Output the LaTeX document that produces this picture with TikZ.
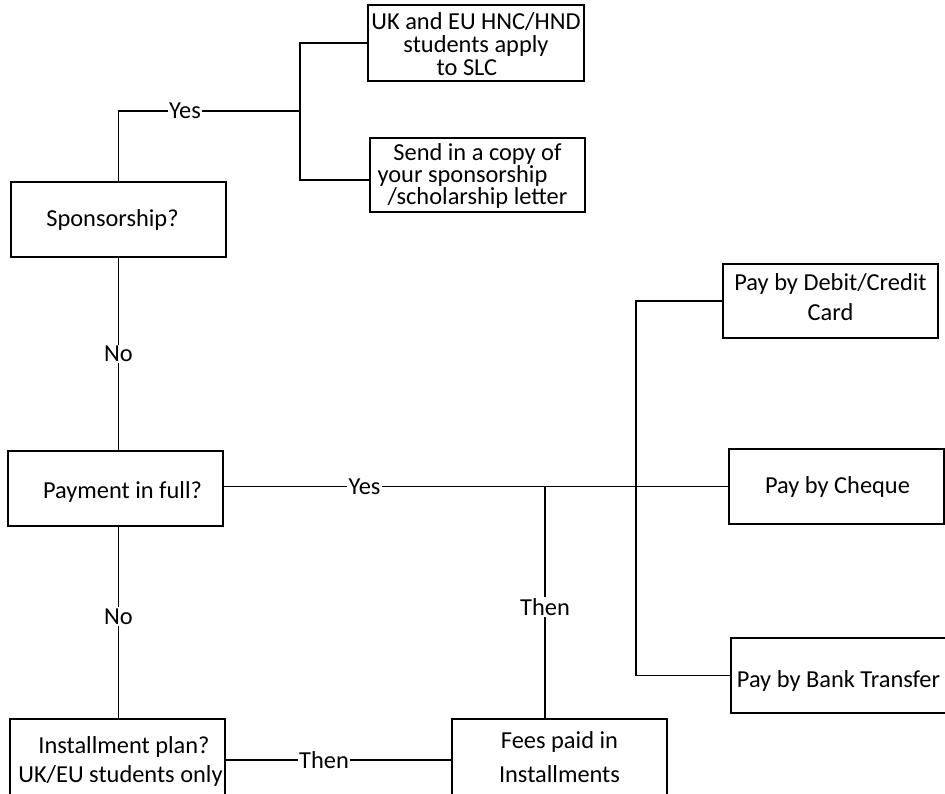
\documentclass[tikz,border=0pt]{standalone}
\usepackage{fontspec}
\setmainfont{Carlito}
\begin{document}
\begin{tikzpicture}[x=1pt,y=-1pt,
  box/.style={draw, line width=1.5pt, inner sep=0pt, minimum width=215pt, minimum height=75pt},
  txt/.style={inner sep=0pt, align=center, font=\fontsize{24.4}{29}\selectfont},
  conn/.style={line width=1.4pt},
  lbl/.style={fill=white, inner sep=1.5pt, font=\fontsize{24.4}{29}\selectfont}]
\useasboundingbox (0,0) rectangle (945,794);
% boxes
\node[box, minimum width=216pt, minimum height=76pt] (uk) at (476,43) {};
\node[box, minimum height=74pt] (send) at (477.5,175) {};
\node[box] (spons) at (118.5,219.5) {};
\node[box, minimum height=74pt] (debit) at (830.5,301) {};
\node[box] (pay) at (115.5,488.5) {};
\node[box] (cheque) at (836.5,486.5) {};
\node[box] (bank) at (838.5,675.5) {};
\node[box, minimum height=76pt] (inst) at (117.5,757) {};
\node[box, minimum height=76pt] (fees) at (559.5,757) {};
% texts
\node[txt, font=\fontsize{24.4}{23}\selectfont] (uk-t) at ([yshift=-1pt]uk.center) {UK and EU HNC/HND\\students apply\\to SLC\kern18pt};
\node[txt, font=\fontsize{24.4}{22}\selectfont] (send-t) at ([yshift=-1pt]send.center) {Send in a copy of\\your sponsorship\kern30pt\\/scholarship letter};
\node[txt] (spons-t) at ([xshift=-6pt]spons.center) {Sponsorship?};
\node[txt, font=\fontsize{24.4}{30}\selectfont] (debit-t) at ([yshift=4pt]debit.center) {Pay by Debit/Credit\\Card};
\node[txt] (pay-t) at ([xshift=7pt,yshift=-3pt]pay.center) {Payment in full?};
\node[txt] (cheque-t) at ([xshift=1pt]cheque.center) {Pay by Cheque};
\node[txt] (bank-t) at ([yshift=-5pt]bank.center) {Pay by Bank Transfer};
\node[txt] (inst-t) at ([xshift=3pt,yshift=-4pt]inst.center) {\kern7pt Installment plan?\\UK/EU students only};
\node[txt, font=\fontsize{24.4}{34}\selectfont] (fees-t) at (fees.center) {Fees paid in\\Installments};
% junctions
\coordinate (jy) at (300,111);
\coordinate (jt) at (545,486.5);
\coordinate (jp) at (636,486.5);
% connectors
\draw[conn] (spons.north) |- node[lbl, pos=0.683]{Yes} (jy);
\draw[conn] (uk.west) -| (jy);
\draw[conn] (jy) |- ([yshift=-5pt]send.west);
\draw[conn] (spons.south) -- node[lbl]{No} (spons.south |- pay.north);
\draw[conn] (spons.south |- pay.south) -- node[lbl, pos=0.47]{No} (spons.south |- inst.north);
\draw[conn] (pay.east |- cheque.west) -- node[lbl, pos=0.279]{Yes} (cheque.west);
\draw[conn] (debit.west) -| (jp |- bank.west) -- (bank.west);
\draw[conn] (jt) -- node[lbl, pos=0.52]{Then} (jt |- fees.north);
\draw[conn] ([yshift=-3pt]inst.east) -- node[lbl, pos=0.436]{Then} ([yshift=-3pt]fees.west);
\end{tikzpicture}
\end{document}
